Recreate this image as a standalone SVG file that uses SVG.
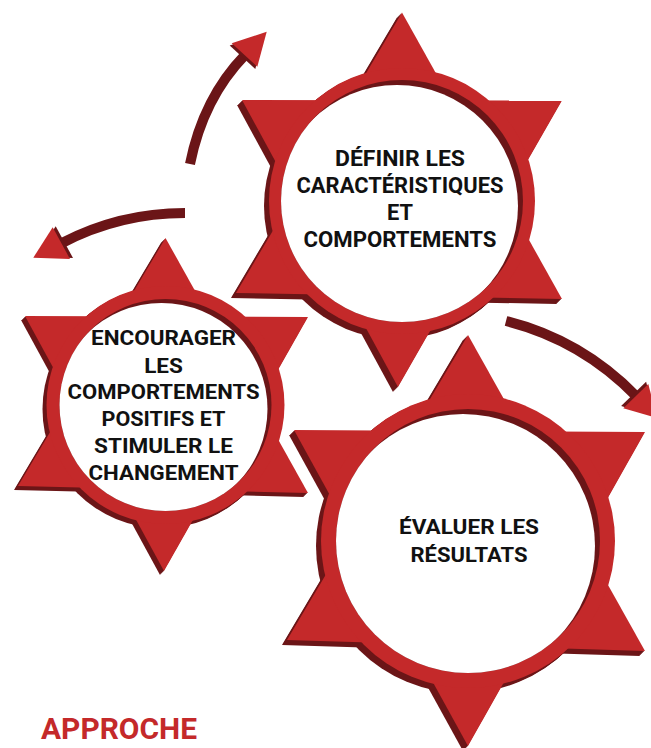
<svg xmlns="http://www.w3.org/2000/svg" width="651" height="748" viewBox="0 0 651 748">
<style>
.red{fill:#c4292a}
.dark{fill:#6b1517}
.white{fill:#ffffff}
.shaft{fill:none;stroke:#6b1517;stroke-width:10;stroke-linecap:butt}
.lbl{font-family:Roboto,"Liberation Sans",sans-serif;font-weight:700;font-size:21px;fill:#111111;text-anchor:middle}
.title{font-family:Roboto,"Liberation Sans",sans-serif;font-weight:700;font-size:29px;fill:#c4292a}
</style>
<defs>
<g id="shape-top"><polygon points="402,12.5 562,299 236,293"/><polygon points="242,100 562,100.5 398,387"/><circle cx="402" cy="201" r="133"/></g>
<g id="shape-left"><polygon points="165.5,238 308,493 18,486"/><polygon points="25,316 308,317 164,571"/><circle cx="165.5" cy="405" r="119"/></g>
<g id="shape-bottom"><polygon points="468,335 645,651 287,640"/><polygon points="294,430 645,432 468,746"/><circle cx="468" cy="541" r="147"/></g>
<clipPath id="clip-top"><circle cx="402" cy="201" r="121"/></clipPath>
<clipPath id="clip-left"><circle cx="165.5" cy="405" r="106"/></clipPath>
<clipPath id="clip-bottom"><circle cx="468" cy="541" r="132"/></clipPath>
</defs>

<g id="connectors">
<path class="shaft" d="M190,164 Q203.2,98.1 245,55"/>
<polygon class="dark" points="231.7,43.3 266.7,31.7 257.3,66.7" transform="translate(-2,2.2)"/>
<polygon class="red" points="231.7,43.3 266.7,31.7 257.3,66.7"/>
<path class="shaft" d="M185,213 Q119.5,213 62,243"/>
<polygon class="dark" points="52.7,227.3 70,259 33.3,257.7" transform="translate(3,-1)"/>
<polygon class="red" points="52.7,227.3 70,259 33.3,257.7"/>
<path class="shaft" d="M506,321 Q581.4,339.9 636,396"/>
<polygon class="dark" points="623.3,408.3 648.3,384 657,418" transform="translate(-2.2,-2.2)"/>
<polygon class="red" points="623.3,408.3 648.3,384 657,418"/>
</g>

<g id="node-encourage">
<g class="dark"><use href="#shape-left" x="-1" y="1"/><use href="#shape-left" x="-2" y="2"/><use href="#shape-left" x="-3" y="3"/><use href="#shape-left" x="-4" y="4"/></g>
<use href="#shape-left" class="red"/>
<circle class="dark" cx="165.5" cy="405" r="106"/>
<circle class="white" cx="161.5" cy="409" r="106" clip-path="url(#clip-left)"/>
<text class="lbl" x="163.5" y="345" textLength="145" lengthAdjust="spacingAndGlyphs">ENCOURAGER</text>
<text class="lbl" x="163.5" y="372.7" textLength="38.7" lengthAdjust="spacingAndGlyphs">LES</text>
<text class="lbl" x="163.5" y="399.3" textLength="192" lengthAdjust="spacingAndGlyphs">COMPORTEMENTS</text>
<text class="lbl" x="163.5" y="426" textLength="124" lengthAdjust="spacingAndGlyphs">POSITIFS ET</text>
<text class="lbl" x="163.5" y="452.7" textLength="139" lengthAdjust="spacingAndGlyphs">STIMULER LE</text>
<text class="lbl" x="163.5" y="480" textLength="150" lengthAdjust="spacingAndGlyphs">CHANGEMENT</text>
</g>

<g id="node-define">
<g class="dark"><use href="#shape-top" x="-1" y="1"/><use href="#shape-top" x="-2" y="2"/><use href="#shape-top" x="-3" y="3"/><use href="#shape-top" x="-4" y="4"/><use href="#shape-top" x="-5" y="5"/></g>
<use href="#shape-top" class="red"/>
<circle class="dark" cx="402" cy="201" r="121"/>
<circle class="white" cx="397" cy="206" r="121" clip-path="url(#clip-top)"/>
<text class="lbl" style="font-size:21.5px" x="400" y="166" textLength="130" lengthAdjust="spacingAndGlyphs">DÉFINIR LES</text>
<text class="lbl" style="font-size:21.5px" x="400" y="193" textLength="207" lengthAdjust="spacingAndGlyphs">CARACTÉRISTIQUES</text>
<text class="lbl" style="font-size:21.5px" x="400" y="219.5" textLength="26" lengthAdjust="spacingAndGlyphs">ET</text>
<text class="lbl" style="font-size:21.5px" x="400" y="247" textLength="193" lengthAdjust="spacingAndGlyphs">COMPORTEMENTS</text>
</g>

<g id="node-evaluate">
<g class="dark"><use href="#shape-bottom" x="-1" y="1"/><use href="#shape-bottom" x="-2" y="2"/><use href="#shape-bottom" x="-3" y="3"/><use href="#shape-bottom" x="-4" y="4"/><use href="#shape-bottom" x="-5" y="5"/></g>
<use href="#shape-bottom" class="red"/>
<circle class="dark" cx="468" cy="541" r="132"/>
<circle class="white" cx="463" cy="546" r="132" clip-path="url(#clip-bottom)"/>
<text class="lbl" style="font-size:20px" x="469" y="534" textLength="140" lengthAdjust="spacingAndGlyphs">ÉVALUER LES</text>
<text class="lbl" style="font-size:20px" x="469" y="561.7" textLength="117" lengthAdjust="spacingAndGlyphs">RÉSULTATS</text>
</g>

<text id="title" class="title" x="41" y="739" textLength="156" lengthAdjust="spacingAndGlyphs">APPROCHE</text>
</svg>
